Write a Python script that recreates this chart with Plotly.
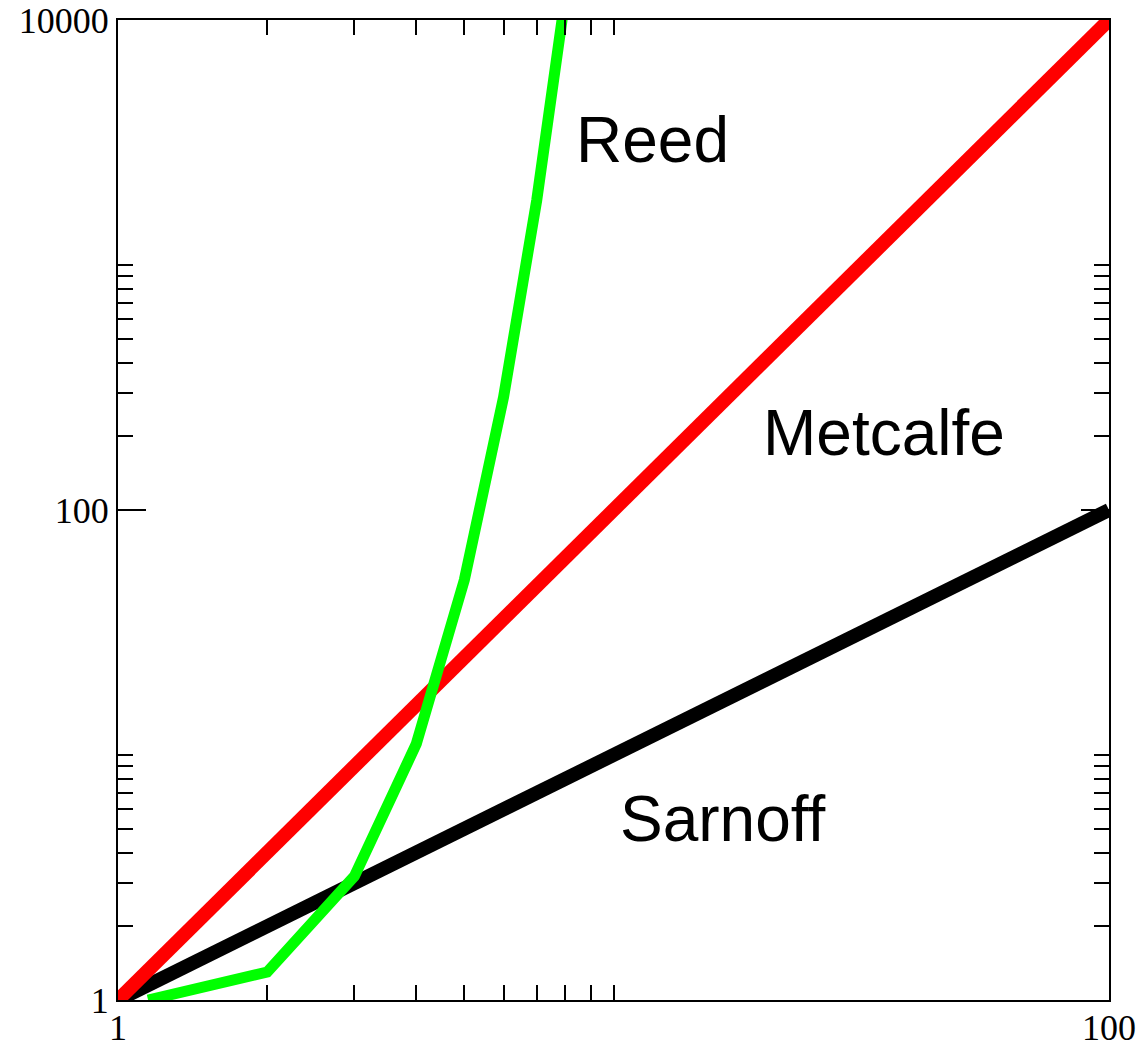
import math
import plotly.graph_objects as go

# Data
sarnoff_x = [1, 100]
sarnoff_y = [1, 100]
metcalfe_x = [1, 100]
metcalfe_y = [1, 10000]
reed_x = [1.15, 2, 3, 4, 5, 6, 7, 8]
reed_y = [1.0, 1.30, 3.2, 11.1, 51.8, 289, 1840, 12600]

x_major = [1, 100]
x_major_text = ["1", "100"]
x_minor = [2, 3, 4, 5, 6, 7, 8, 9, 10]
y_major = [1, 100, 10000]
y_major_text = ["1", "100", "10000"]
y_minor = [2, 3, 4, 5, 6, 7, 8, 9, 10, 200, 300, 400, 500, 600, 700, 800, 900, 1000]

labels = ["Reed", "Metcalfe", "Sarnoff"]
label_x = [8.32, 19.86, 10.2]
label_y = [3240, 206, 5.5]

fig = go.Figure()
fig.add_trace(go.Scatter(x=sarnoff_x, y=sarnoff_y, mode="lines",
                         line=dict(color="#000000", width=14), showlegend=False))
fig.add_trace(go.Scatter(x=metcalfe_x, y=metcalfe_y, mode="lines",
                         line=dict(color="#ff0000", width=14), showlegend=False))
fig.add_trace(go.Scatter(x=reed_x, y=reed_y, mode="lines",
                         line=dict(color="#00ff00", width=11), showlegend=False))

for t, lx, ly in zip(labels, label_x, label_y):
    fig.add_annotation(x=math.log10(lx), y=math.log10(ly), text=t, showarrow=False,
                       xanchor="left", yanchor="middle",
                       font=dict(family="Liberation Sans", size=64, color="#000000"))

tickfont = dict(family="Liberation Serif", size=36, color="#000000")
fig.update_xaxes(type="log", range=[0, 2], showgrid=False, zeroline=False, automargin=False,
                 showline=True, linecolor="#000000", linewidth=2, mirror="ticks",
                 ticks="inside", ticklen=28, tickwidth=2, tickcolor="#000000",
                 tickmode="array", tickvals=x_major, ticktext=x_major_text,
                 tickfont=tickfont, ticklabelstandoff=-5,
                 minor=dict(tickmode="array", tickvals=x_minor, ticks="inside",
                            ticklen=15, tickwidth=2, tickcolor="#000000", showgrid=False))
fig.update_yaxes(type="log", range=[0, 4], showgrid=False, zeroline=False, automargin=False,
                 showline=True, linecolor="#000000", linewidth=2, mirror="ticks",
                 ticks="inside", ticklen=28, tickwidth=2, tickcolor="#000000",
                 tickmode="array", tickvals=y_major, ticktext=y_major_text,
                 tickfont=tickfont,
                 minor=dict(tickmode="array", tickvals=y_minor, ticks="inside",
                            ticklen=15, tickwidth=2, tickcolor="#000000", showgrid=False))

fig.update_layout(width=1142, height=1048, plot_bgcolor="#ffffff", paper_bgcolor="#ffffff",
                  margin=dict(l=118, r=33, t=20, b=48))

fig.write_html("out.html", config={"displayModeBar": False},
               post_script="document.body.style.margin='0';document.body.style.overflow='hidden';")
